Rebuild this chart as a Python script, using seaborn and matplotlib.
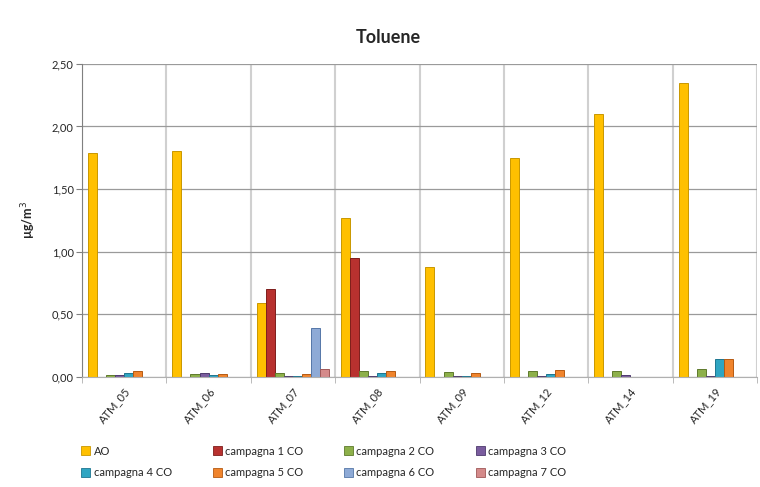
import numpy as np
import pandas as pd
import matplotlib
matplotlib.use("Agg")
import matplotlib.pyplot as plt
from matplotlib.ticker import FuncFormatter, FixedLocator
from matplotlib.patches import Patch
import seaborn as sns

sites = ["ATM_05", "ATM_06", "ATM_07", "ATM_08", "ATM_09", "ATM_12", "ATM_14", "ATM_19"]
series = ["AO", "campagna 1 CO", "campagna 2 CO", "campagna 3 CO",
          "campagna 4 CO", "campagna 5 CO", "campagna 6 CO", "campagna 7 CO"]

nan = np.nan
ao = [1.79, 1.80, 0.59, 1.27, 0.88, 1.75, 2.10, 2.35]
camp1 = [nan, nan, 0.70, 0.95, nan, nan, nan, nan]
camp2 = [0.015, 0.02, 0.035, 0.045, 0.04, 0.045, 0.045, 0.065]
camp3 = [0.015, 0.035, 0.01, 0.01, 0.01, 0.01, 0.015, 0.01]
camp4 = [0.03, 0.015, 0.01, 0.03, 0.01, 0.025, 0.003, 0.14]
camp5 = [0.045, 0.02, 0.02, 0.045, 0.035, 0.055, nan, 0.14]
camp6 = [nan, nan, 0.39, nan, nan, nan, nan, nan]
camp7 = [nan, nan, 0.06, nan, nan, nan, nan, nan]

colors = ["#FFC000", "#B8312F", "#8DB04A", "#7A5C9E", "#2FA5C2",
          "#F0842C", "#8EAAD6", "#D48A8A"]
edges = ["#C99700", "#7E1E1C", "#5E7A2C", "#4E3A6E", "#1E7690",
         "#B55A12", "#5577A8", "#A05858"]

columns = [ao, camp1, camp2, camp3, camp4, camp5, camp6, camp7]
rows = []
for name, vals in zip(series, columns):
    for site, v in zip(sites, vals):
        rows.append({"site": site, "serie": name, "value": v})
df = pd.DataFrame(rows)

sns.set_style("white")
plt.rcParams["font.family"] = ["Lato", "DejaVu Sans"]

fig = plt.figure(figsize=(7.6, 4.87), dpi=100)
ax = fig.add_axes([0.108, 0.226, 0.888, 0.643])

sns.barplot(data=df, x="site", y="value", hue="serie", hue_order=series,
            order=sites, palette=colors, width=0.86, ax=ax, legend=False,
            errorbar=None, saturation=1)

# darker outline per series
for cont, ec in zip(ax.containers, edges):
    for bar in cont:
        bar.set_edgecolor(ec)
        bar.set_linewidth(0.7)

ax.set_xlim(-0.5, len(sites) - 0.5)
ax.set_ylim(0, 2.5)
ax.set_yticks(np.arange(0, 2.51, 0.5))
ax.yaxis.set_major_formatter(FuncFormatter(lambda v, p: f"{v:.2f}".replace(".", ",")))
ax.yaxis.grid(True, color="#9a9a9a", linewidth=0.9)
ax.xaxis.set_minor_locator(FixedLocator(np.arange(-0.5, len(sites), 1.0)))
ax.xaxis.grid(True, which="minor", color="#d0d0d0", linewidth=1.5)
ax.set_axisbelow(True)

for s in ["top", "right"]:
    ax.spines[s].set_visible(False)
ax.spines["left"].set_color("#808080")
ax.spines["bottom"].set_color("#b0b0b0")

ax.tick_params(axis="y", which="major", length=4, color="#808080",
               labelsize=8, left=True, pad=2)
ax.tick_params(axis="x", which="major", length=0, labelsize=8, pad=6)
ax.tick_params(axis="x", which="minor", length=4, color="#b0b0b0", bottom=True)
plt.setp(ax.get_xticklabels(), rotation=50, ha="right", rotation_mode="anchor")

ax.set_xlabel("")
ax.set_ylabel("µg/m$^3$", fontsize=9, fontweight="bold", labelpad=10)
fig.text(0.511, 0.924, "Toluene", fontsize=13, fontweight="bold",
         ha="center", va="center")

# legend filled row by row (matplotlib fills columns first)
ncol = 4
order = [r * ncol + c for c in range(ncol) for r in range(2)]
handles = [Patch(facecolor=colors[i], edgecolor=edges[i], linewidth=0.6) for i in order]
labels = [series[i] for i in order]
fig.legend(handles, labels, loc="upper left", bbox_to_anchor=(0.107, 0.085),
           ncol=ncol, frameon=False, fontsize=8, handlelength=0.8, handleheight=0.8,
           handletextpad=0.3, columnspacing=3.7, labelspacing=0.95,
           borderaxespad=0, borderpad=0)

fig.savefig("out.png", dpi=100)
